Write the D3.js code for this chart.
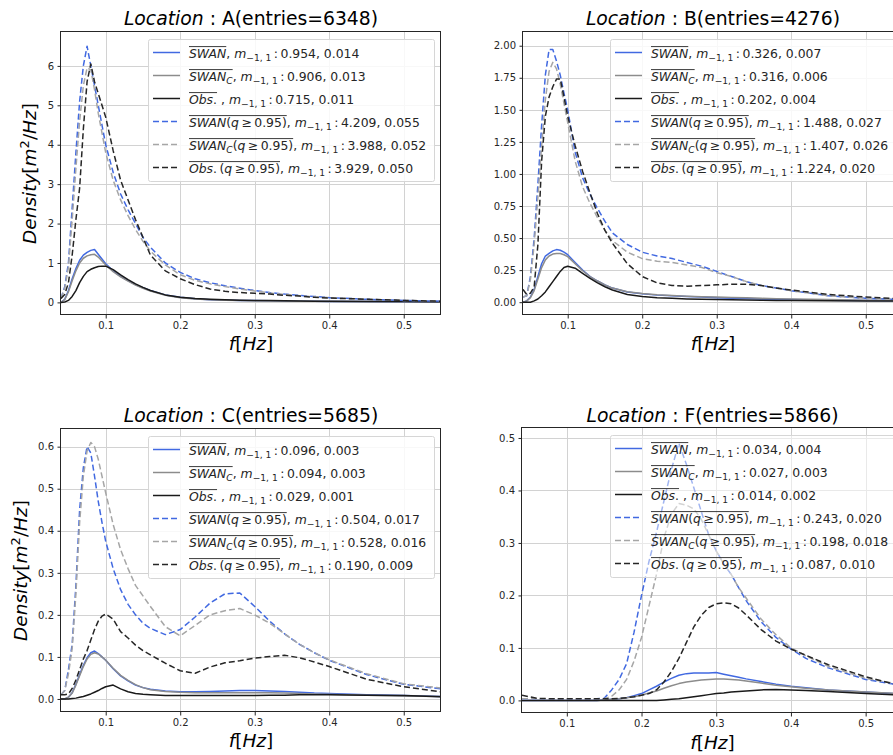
<!DOCTYPE html>
<html>
<head>
<meta charset="utf-8">
<script src="https://cdnjs.cloudflare.com/ajax/libs/d3/7.8.5/d3.min.js"></script>
<style>
  html, body { margin: 0; padding: 0; background: #fff; }
  svg text { font-family: "DejaVu Sans", sans-serif; white-space: pre; }
</style>
</head>
<body>
<svg id="fig" width="893" height="755"></svg>
<script>
// frequency bins
const freqABC = [0.040, 0.045, 0.050, 0.055, 0.060, 0.065, 0.070, 0.075, 0.080, 0.085, 0.090, 0.095, 0.100,
  0.110, 0.120, 0.130, 0.140, 0.150, 0.160, 0.180, 0.200, 0.220, 0.240, 0.260, 0.280, 0.300, 0.320, 0.340,
  0.360, 0.380, 0.400, 0.450, 0.500, 0.550];
const freqF = [0.040, 0.060, 0.080, 0.100, 0.120, 0.140, 0.150, 0.160, 0.170, 0.180, 0.190, 0.200, 0.210,
  0.220, 0.230, 0.240, 0.250, 0.260, 0.270, 0.280, 0.290, 0.300, 0.310, 0.320, 0.330, 0.340, 0.360, 0.380,
  0.400, 0.420, 0.450, 0.500, 0.550];

// Location A
const swanA   = [0.0, 0.08, 0.3, 0.6, 0.86, 1.07, 1.2, 1.27, 1.32, 1.34, 1.22, 1.1, 0.98, 0.8, 0.66, 0.55, 0.45, 0.37, 0.3, 0.19, 0.13, 0.09, 0.07, 0.06, 0.05, 0.045, 0.04, 0.035, 0.03, 0.03, 0.025, 0.02, 0.015, 0.01];
const swanCA  = [0.0, 0.07, 0.27, 0.55, 0.8, 1.0, 1.12, 1.18, 1.21, 1.22, 1.15, 1.05, 0.95, 0.78, 0.65, 0.54, 0.44, 0.36, 0.29, 0.18, 0.12, 0.085, 0.065, 0.055, 0.048, 0.042, 0.037, 0.033, 0.03, 0.028, 0.025, 0.02, 0.015, 0.01];
const obsA    = [0.0, 0.01, 0.05, 0.15, 0.3, 0.5, 0.66, 0.78, 0.84, 0.88, 0.91, 0.92, 0.92, 0.83, 0.7, 0.58, 0.47, 0.38, 0.3, 0.19, 0.13, 0.1, 0.08, 0.065, 0.055, 0.05, 0.045, 0.04, 0.035, 0.03, 0.03, 0.025, 0.02, 0.015];
const swanQA  = [0.1, 0.4, 1.0, 2.4, 3.8, 5.1, 6.0, 6.5, 6.0, 5.5, 5.0, 4.5, 4.0, 3.3, 2.75, 2.35, 2.0, 1.65, 1.4, 1.0, 0.76, 0.6, 0.5, 0.42, 0.36, 0.3, 0.25, 0.21, 0.18, 0.15, 0.12, 0.08, 0.05, 0.03];
const swanCQA = [0.1, 0.35, 0.9, 2.1, 3.4, 4.6, 5.5, 5.95, 5.9, 5.4, 4.8, 4.3, 3.8, 3.1, 2.6, 2.2, 1.85, 1.55, 1.3, 0.95, 0.7, 0.56, 0.47, 0.4, 0.34, 0.29, 0.24, 0.2, 0.17, 0.14, 0.12, 0.08, 0.05, 0.03];
const obsQA   = [0.1, 0.2, 0.5, 1.2, 2.1, 2.9, 4.4, 5.6, 6.05, 5.6, 5.3, 5.0, 4.7, 3.85, 3.1, 2.6, 2.1, 1.65, 1.2, 0.8, 0.6, 0.45, 0.34, 0.28, 0.25, 0.23, 0.21, 0.18, 0.16, 0.13, 0.11, 0.08, 0.05, 0.03];

// Location B
const swanB   = [0.0, 0.01, 0.04, 0.1, 0.2, 0.3, 0.36, 0.38, 0.4, 0.41, 0.405, 0.39, 0.37, 0.31, 0.25, 0.2, 0.165, 0.135, 0.11, 0.08, 0.065, 0.055, 0.05, 0.045, 0.04, 0.035, 0.03, 0.028, 0.025, 0.022, 0.02, 0.016, 0.013, 0.011];
const swanCB  = [0.0, 0.01, 0.035, 0.09, 0.18, 0.27, 0.33, 0.36, 0.375, 0.38, 0.38, 0.37, 0.355, 0.3, 0.245, 0.2, 0.165, 0.135, 0.11, 0.082, 0.068, 0.058, 0.052, 0.047, 0.043, 0.04, 0.037, 0.034, 0.03, 0.027, 0.024, 0.02, 0.016, 0.013];
const obsB    = [0.0, 0.0, 0.0, 0.01, 0.025, 0.05, 0.08, 0.12, 0.16, 0.2, 0.24, 0.27, 0.28, 0.265, 0.225, 0.185, 0.15, 0.12, 0.095, 0.06, 0.045, 0.035, 0.03, 0.025, 0.022, 0.02, 0.018, 0.017, 0.015, 0.014, 0.013, 0.011, 0.009, 0.008];
const swanQB  = [0.04, 0.05, 0.2, 0.5, 0.92, 1.38, 1.77, 1.97, 1.97, 1.88, 1.77, 1.63, 1.5, 1.17, 0.97, 0.84, 0.73, 0.63, 0.54, 0.45, 0.39, 0.36, 0.34, 0.31, 0.28, 0.24, 0.2, 0.16, 0.13, 0.11, 0.09, 0.05, 0.03, 0.02];
const swanCQB = [0.04, 0.05, 0.18, 0.45, 0.82, 1.22, 1.58, 1.8, 1.87, 1.82, 1.7, 1.55, 1.4, 1.1, 0.9, 0.77, 0.66, 0.56, 0.48, 0.39, 0.34, 0.32, 0.31, 0.29, 0.27, 0.23, 0.2, 0.16, 0.13, 0.11, 0.09, 0.05, 0.03, 0.02];
const obsQB   = [0.1, 0.06, 0.07, 0.12, 0.45, 1.1, 1.45, 1.6, 1.68, 1.74, 1.74, 1.6, 1.45, 1.22, 1.02, 0.85, 0.69, 0.56, 0.46, 0.3, 0.2, 0.15, 0.13, 0.125, 0.13, 0.135, 0.14, 0.14, 0.13, 0.11, 0.095, 0.06, 0.04, 0.025];

// Location C
const swanC   = [0.0, 0.0, 0.004, 0.015, 0.035, 0.058, 0.08, 0.098, 0.11, 0.114, 0.108, 0.1, 0.092, 0.072, 0.055, 0.043, 0.033, 0.027, 0.023, 0.019, 0.017, 0.017, 0.018, 0.019, 0.02, 0.02, 0.019, 0.018, 0.016, 0.014, 0.013, 0.01, 0.008, 0.006];
const swanCC  = [0.0, 0.0, 0.004, 0.014, 0.033, 0.055, 0.077, 0.095, 0.106, 0.11, 0.107, 0.1, 0.092, 0.073, 0.056, 0.044, 0.034, 0.027, 0.022, 0.018, 0.016, 0.015, 0.015, 0.015, 0.015, 0.015, 0.015, 0.014, 0.013, 0.012, 0.011, 0.009, 0.007, 0.006];
const obsC    = [0.0, 0.0, 0.0, 0.001, 0.002, 0.004, 0.006, 0.009, 0.012, 0.016, 0.02, 0.025, 0.029, 0.033, 0.024, 0.017, 0.013, 0.011, 0.01, 0.008, 0.008, 0.008, 0.008, 0.008, 0.008, 0.008, 0.009, 0.009, 0.01, 0.01, 0.01, 0.009, 0.008, 0.005];
const swanQC  = [0.01, 0.02, 0.07, 0.13, 0.27, 0.45, 0.55, 0.6, 0.585, 0.53, 0.47, 0.42, 0.375, 0.31, 0.26, 0.225, 0.2, 0.18, 0.168, 0.153, 0.165, 0.195, 0.228, 0.25, 0.252, 0.22, 0.185, 0.155, 0.13, 0.11, 0.092, 0.058, 0.035, 0.024];
const swanCQC = [0.01, 0.02, 0.06, 0.12, 0.25, 0.42, 0.53, 0.59, 0.61, 0.6, 0.57, 0.53, 0.49, 0.415, 0.355, 0.31, 0.27, 0.245, 0.22, 0.172, 0.15, 0.175, 0.2, 0.21, 0.215, 0.2, 0.18, 0.155, 0.13, 0.11, 0.093, 0.06, 0.036, 0.026];
const obsQC   = [0.01, 0.01, 0.012, 0.025, 0.045, 0.07, 0.095, 0.115, 0.14, 0.165, 0.185, 0.197, 0.202, 0.19, 0.16, 0.145, 0.128, 0.115, 0.105, 0.085, 0.067, 0.061, 0.076, 0.086, 0.091, 0.097, 0.101, 0.104, 0.098, 0.088, 0.077, 0.047, 0.029, 0.017];

// Location F
const swanF   = [0, 0, 0, 0, 0, 0, 0.001, 0.002, 0.003, 0.005, 0.009, 0.013, 0.02, 0.027, 0.035, 0.042, 0.048, 0.051, 0.052, 0.052, 0.052, 0.053, 0.05, 0.047, 0.044, 0.041, 0.036, 0.031, 0.027, 0.024, 0.02, 0.016, 0.012];
const swanCF  = [0, 0, 0, 0, 0, 0, 0.001, 0.002, 0.003, 0.005, 0.007, 0.01, 0.014, 0.018, 0.023, 0.028, 0.032, 0.035, 0.037, 0.039, 0.04, 0.041, 0.041, 0.04, 0.039, 0.037, 0.033, 0.029, 0.026, 0.023, 0.02, 0.016, 0.013];
const obsF    = [0, 0, 0, 0, 0, 0, 0, 0, 0, 0, 0, 0, 0, 0, 0.001, 0.002, 0.003, 0.005, 0.007, 0.009, 0.011, 0.013, 0.014, 0.016, 0.017, 0.018, 0.02, 0.021, 0.02, 0.019, 0.017, 0.013, 0.01];
const swanQF  = [0.003, 0.003, 0.003, 0.003, 0.003, 0.003, 0.004, 0.02, 0.04, 0.07, 0.13, 0.2, 0.265, 0.32, 0.38, 0.44, 0.49, 0.45, 0.405, 0.36, 0.315, 0.285, 0.26, 0.24, 0.215, 0.19, 0.15, 0.12, 0.098, 0.08, 0.062, 0.04, 0.028];
const swanCQF = [0.003, 0.003, 0.003, 0.003, 0.003, 0.003, 0.003, 0.008, 0.02, 0.04, 0.075, 0.12, 0.18, 0.24, 0.31, 0.355, 0.375, 0.372, 0.365, 0.345, 0.315, 0.285, 0.26, 0.24, 0.215, 0.195, 0.155, 0.125, 0.1, 0.085, 0.065, 0.042, 0.03];
const obsQF   = [0.01, 0.004, 0.003, 0.003, 0.003, 0.003, 0.003, 0.003, 0.004, 0.005, 0.007, 0.01, 0.013, 0.02, 0.035, 0.055, 0.08, 0.11, 0.14, 0.162, 0.177, 0.184, 0.186, 0.184, 0.176, 0.163, 0.135, 0.113, 0.098, 0.086, 0.068, 0.045, 0.027];

// legend numbers (m_{-1,1} stats)
const legendA = ['0.954, 0.014', '0.906, 0.013', '0.715, 0.011', '4.209, 0.055', '3.988, 0.052', '3.929, 0.050'];
const legendB = ['0.326, 0.007', '0.316, 0.006', '0.202, 0.004', '1.488, 0.027', '1.407, 0.026', '1.224, 0.020'];
const legendC = ['0.096, 0.003', '0.094, 0.003', '0.029, 0.001', '0.504, 0.017', '0.528, 0.016', '0.190, 0.009'];
const legendF = ['0.034, 0.004', '0.027, 0.003', '0.014, 0.002', '0.243, 0.020', '0.198, 0.018', '0.087, 0.010'];

// axes
const xDomain = [0.04, 0.55];
const xTicks = [0.1, 0.2, 0.3, 0.4, 0.5];
const yTicksA = [0, 1, 2, 3, 4, 5, 6];
const yTicksB = [0, 0.25, 0.5, 0.75, 1.0, 1.25, 1.5, 1.75, 2.0];
const yTicksC = [0, 0.1, 0.2, 0.3, 0.4, 0.5, 0.6];
const yTicksF = [0, 0.1, 0.2, 0.3, 0.4, 0.5];

const styles = [
  { color: '#4169e1', dash: null },
  { color: '#8c8c8c', dash: null },
  { color: '#1a1a1a', dash: null },
  { color: '#4169e1', dash: '6,3' },
  { color: '#a6a6a6', dash: '6,3' },
  { color: '#262626', dash: '6,3' }
];

const panels = [
  { loc: 'A', entries: 6348, freq: freqABC, series: [swanA, swanCA, obsA, swanQA, swanCQA, obsQA], legend: legendA,
    yTicks: yTicksA, yFmt: d3.format('d'), yDomain: [-0.32, 6.86], box: [61, 32, 441, 315], titleY: 25, xlabY: 350, ylabX: 36, legAlpha: 0.85 },
  { loc: 'B', entries: 4276, freq: freqABC, series: [swanB, swanCB, obsB, swanQB, swanCQB, obsQB], legend: legendB,
    yTicks: yTicksB, yFmt: d3.format('.2f'), yDomain: [-0.1, 2.107], box: [523, 32, 903, 315], titleY: 25, xlabY: 350, ylabX: null, legAlpha: 0.85 },
  { loc: 'C', entries: 5685, freq: freqABC, series: [swanC, swanCC, obsC, swanQC, swanCQC, obsQC], legend: legendC,
    yTicks: yTicksC, yFmt: d3.format('.1f'), yDomain: [-0.031, 0.642], box: [61, 429, 441, 712], titleY: 422, xlabY: 747, ylabX: 27, legAlpha: 0.85 },
  { loc: 'F', entries: 5866, freq: freqF, series: [swanF, swanCF, obsF, swanQF, swanCQF, obsQF], legend: legendF,
    yTicks: yTicksF, yFmt: d3.format('.1f'), yDomain: [-0.024, 0.519], box: [522, 428, 903, 713], titleY: 422, xlabY: 749, ylabX: null, legAlpha: 0.5 }
];

const svg = d3.select('#fig');
const ink = '#262626';
const thin = '\u2009';
const legendSize = 12.4;
const crisp = v => Math.round(v) + 0.5;

function legendPieces(i, nums) {
  const sw = [{ t: 'SWAN', it: 1, ov: 1 }];
  const swc = [{ t: 'SWAN', it: 1, ov: 1 }, { t: 'C', it: 1, sub: 1, ov: 1 }];
  const obs = [{ t: 'Obs', it: 1, ov: 1 }, { t: '.', ov: 1 }];
  const q = [{ t: '(', ov: 1 }, { t: 'q', it: 1, ov: 1 }, { t: thin + '≥' + thin + '0.95)', ov: 1 }];
  const heads = [sw, swc, obs.concat([{ t: ' ' }]), sw.concat(q), swc.concat(q), obs.concat([{ t: thin, ov: 1 }], q)];
  return heads[i].concat([{ t: ', ' }, { t: 'm', it: 1 }, { t: '−1, 1', sub: 1 }, { t: thin + ':' + thin + nums }]);
}

function drawPieces(g, x0, y0, pieces, size) {
  let cx = x0, ovStart = null, ovEnd = null;
  pieces.forEach(p => {
    const fs = p.sub ? size * 0.74 : size;
    const t = g.append('text')
      .attr('x', cx).attr('y', y0 + (p.sub ? size * 0.27 : 0))
      .attr('xml:space', 'preserve')
      .attr('font-size', fs)
      .attr('font-style', p.it ? 'italic' : 'normal')
      .attr('fill', ink)
      .text(p.t);
    const w = t.node().getComputedTextLength();
    if (p.ov) { if (ovStart === null) ovStart = cx; ovEnd = cx + w; }
    cx += w;
  });
  if (ovStart !== null) {
    g.append('line')
      .attr('x1', ovStart).attr('x2', ovEnd)
      .attr('y1', y0 - size * 0.88).attr('y2', y0 - size * 0.88)
      .attr('stroke', ink).attr('stroke-width', 0.9);
  }
}

function drawPanel(p) {
  const [left, top, right, bottom] = p.box;
  const x = d3.scaleLinear().domain(xDomain).range([left, right]);
  const y = d3.scaleLinear().domain(p.yDomain).range([bottom, top]);
  const g = svg.append('g');

  const clipId = 'clip' + p.loc;
  svg.append('clipPath').attr('id', clipId)
    .append('rect').attr('x', left).attr('y', top).attr('width', right - left).attr('height', bottom - top);

  // grid
  const grid = g.append('g').attr('stroke', '#d2d2d2').attr('stroke-width', 1);
  xTicks.forEach(t => grid.append('line')
    .attr('x1', crisp(x(t))).attr('x2', crisp(x(t))).attr('y1', top).attr('y2', bottom));
  p.yTicks.forEach(t => grid.append('line')
    .attr('x1', left).attr('x2', right).attr('y1', crisp(y(t))).attr('y2', crisp(y(t))));

  // curves
  const line = d3.line().x((d, i) => x(p.freq[i])).y(d => y(d));
  const curves = g.append('g').attr('clip-path', `url(#${clipId})`);
  p.series.forEach((s, i) => {
    curves.append('path').datum(s)
      .attr('d', line)
      .attr('fill', 'none')
      .attr('stroke', styles[i].color)
      .attr('stroke-width', 1.5)
      .attr('stroke-dasharray', styles[i].dash)
      .attr('stroke-linejoin', 'round');
  });

  // legend
  const lw = 286, lh = 142;
  const lx = right - 7 - lw, ly = top + 7;
  const lg = g.append('g');
  lg.append('rect').attr('x', lx + 0.5).attr('y', ly + 0.5).attr('width', lw).attr('height', lh)
    .attr('rx', 2).attr('fill', '#fff').attr('fill-opacity', p.legAlpha)
    .attr('stroke', '#d6d6d6').attr('stroke-width', 1);
  p.legend.forEach((nums, i) => {
    const cy = ly + 13.5 + i * 23;
    lg.append('line')
      .attr('x1', lx + 5).attr('x2', lx + 32).attr('y1', cy).attr('y2', cy)
      .attr('stroke', styles[i].color).attr('stroke-width', 1.5)
      .attr('stroke-dasharray', styles[i].dash);
    drawPieces(lg, lx + 41, cy + 5, legendPieces(i, nums), legendSize);
  });

  // axes
  const xAxis = g.append('g').attr('transform', `translate(0,${bottom})`)
    .call(d3.axisBottom(x).tickValues(xTicks).tickFormat(d3.format('.1f'))
      .tickSizeInner(3.5).tickSizeOuter(0).tickPadding(3.5));
  const yAxis = g.append('g').attr('transform', `translate(${left},0)`)
    .call(d3.axisLeft(y).tickValues(p.yTicks).tickFormat(p.yFmt)
      .tickSizeInner(3.5).tickSizeOuter(0).tickPadding(3.5));
  [xAxis, yAxis].forEach(a => {
    a.select('.domain').remove();
    a.attr('font-family', 'DejaVu Sans').attr('font-size', 10);
    a.selectAll('text').attr('fill', ink);
    a.selectAll('line').attr('stroke', ink);
  });

  // spines
  g.append('rect')
    .attr('x', crisp(left) - 1).attr('y', crisp(top) - 1)
    .attr('width', Math.round(right - left)).attr('height', Math.round(bottom - top))
    .attr('fill', 'none').attr('stroke', ink).attr('stroke-width', 1);

  // title
  const title = g.append('text')
    .attr('x', (left + right) / 2).attr('y', p.titleY)
    .attr('text-anchor', 'middle').attr('font-size', 18.8).attr('fill', '#000')
    .attr('xml:space', 'preserve');
  title.append('tspan').attr('font-style', 'italic').text('Location');
  title.append('tspan').text(' : ' + p.loc + '(entries=' + p.entries + ')');

  // x label
  const xl = g.append('text')
    .attr('x', (left + right) / 2).attr('y', p.xlabY)
    .attr('text-anchor', 'middle').attr('font-size', 18.5).attr('fill', '#000');
  xl.append('tspan').attr('font-style', 'italic').text('f');
  xl.append('tspan').text('[');
  xl.append('tspan').attr('font-style', 'italic').text('Hz');
  xl.append('tspan').text(']');

  // y label
  if (p.ylabX !== null) {
    const yl = g.append('text')
      .attr('transform', `translate(${p.ylabX},${(top + bottom) / 2}) rotate(-90)`)
      .attr('text-anchor', 'middle').attr('font-size', 18.5).attr('fill', '#000');
    yl.append('tspan').attr('font-style', 'italic').text('Density');
    yl.append('tspan').text('[');
    yl.append('tspan').attr('font-style', 'italic').text('m');
    yl.append('tspan').text('2').attr('font-size', 13).attr('dy', -7);
    yl.append('tspan').text('/').attr('dy', 7);
    yl.append('tspan').attr('font-style', 'italic').text('Hz');
    yl.append('tspan').text(']');
  }
}

panels.forEach(drawPanel);
</script>
</body>
</html>
